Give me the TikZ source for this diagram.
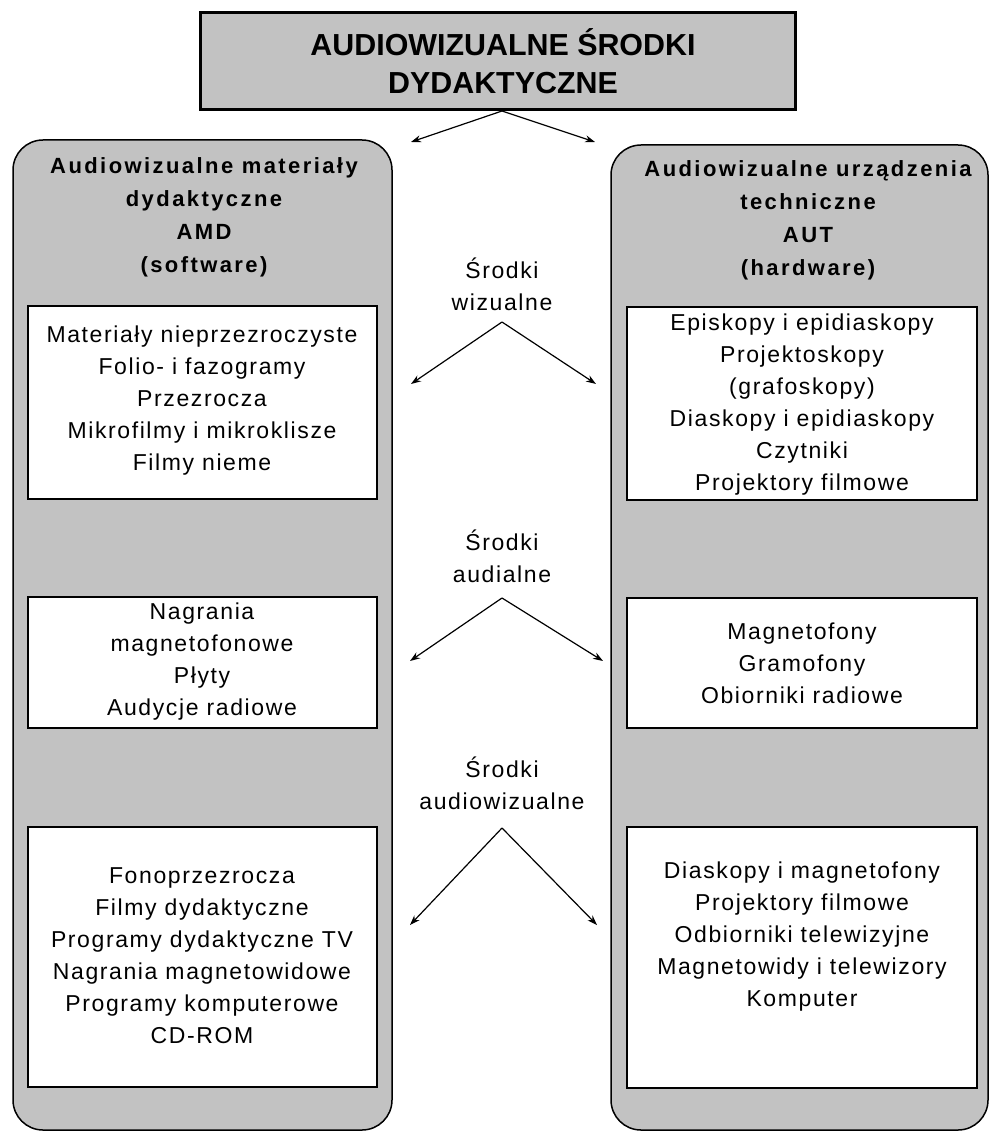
\documentclass[tikz,border=0pt]{standalone}
\usepackage{fontspec}
\usepackage{tikz}
\usetikzlibrary{arrows.meta}
\setmainfont{Liberation Sans}
\newfontfamily\itemfont[LetterSpace=7]{Liberation Sans}
\newfontfamily\hdrfont[LetterSpace=11]{Liberation Sans}
\definecolor{scangray}{gray}{0.76}

\tikzset{
    titlebox/.style={draw=black, line width=1.5pt, fill=scangray},
    bigbox/.style={draw=black, line width=0.75pt, fill=scangray, rounded corners=15pt},
    innerbox/.style={draw=black, line width=0.6pt, fill=white},
    titletxt/.style={align=center, font=\fontsize{15.2}{19}\selectfont\bfseries},
    hdrtxt/.style={align=center, font=\hdrfont\fontsize{11}{16.5}\selectfont\bfseries},
    itemtxt/.style={align=center, font=\itemfont\fontsize{11.5}{16}\selectfont},
    arr/.style={-{Stealth[length=5pt,width=3.5pt]}, line width=0.6pt}
}

\begin{document}
\begin{tikzpicture}[x=0.5pt, y=-0.5pt]
        \useasboundingbox (0,0) rectangle (993,1134);

        \coordinate(t0) at (502, 111);
        \coordinate(t1) at (411, 142);
        \coordinate(t2) at (595, 142);

        \coordinate(w0) at (502, 322);
        \coordinate(w1) at (411, 384);
        \coordinate(w2) at (596, 384);

        \coordinate(a0) at (502, 598);
        \coordinate(a1) at (410, 661);
        \coordinate(a2) at (603, 661);

        \coordinate(v0) at (502, 828);
        \coordinate(v1) at (410, 925);
        \coordinate(v2) at (597, 925);

        % big panels
        \draw[bigbox] (13, 140) rectangle (392, 1130);
        \draw[bigbox] (611, 145) rectangle (988, 1130);

        % inner lists
        \draw[innerbox] (28, 306) rectangle (377, 499);
        \draw[innerbox] (28, 597) rectangle (377, 728);
        \draw[innerbox] (28, 827) rectangle (377, 1087);

        \draw[innerbox] (627, 307) rectangle (977, 500);
        \draw[innerbox] (627, 598) rectangle (977, 728);
        \draw[innerbox] (627, 827) rectangle (977, 1088);

        % title
        \draw[titlebox] (200, 13) rectangle (795, 110);
        \node[titletxt] (title) at (503, 61) {AUDIOWIZUALNE ŚRODKI\\DYDAKTYCZNE};

        \node[hdrtxt] (amd) at (204, 217) {Audiowizualne materiały\\dydaktyczne\\AMD\\(software)};
        \node[hdrtxt] (aut) at (808, 220) {Audiowizualne urządzenia\\techniczne\\AUT\\(hardware)};

        \node[itemtxt] (wiz) at (502, 284) {Środki\\wizualne};
        \node[itemtxt] (aud) at (502, 556) {Środki\\audialne};
        \node[itemtxt] (audwiz) at (502, 783) {Środki\\audiowizualne};

        \node[itemtxt] (amd1) at (202, 401) {Materiały nieprzezroczyste\\Folio- i fazogramy\\Przezrocza\\Mikrofilmy i mikroklisze\\Filmy nieme};
        \node[itemtxt] (amd2) at (202, 662) {Nagrania\\magnetofonowe\\Płyty\\Audycje radiowe};
        \node[itemtxt] (amd3) at (202, 956) {Fonoprzezrocza\\Filmy dydaktyczne\\Programy dydaktyczne TV\\Nagrania magnetowidowe\\Programy komputerowe\\CD-ROM};

        \node[itemtxt] (aut1) at (802, 405) {Episkopy i epidiaskopy\\Projektoskopy\\(grafoskopy)\\Diaskopy i epidiaskopy\\Czytniki\\Projektory filmowe};
        \node[itemtxt] (aut2) at (802, 663) {Magnetofony\\Gramofony\\Obiorniki radiowe};
        \node[itemtxt] (aut3) at (802, 937) {Diaskopy i magnetofony\\Projektory filmowe\\Odbiorniki telewizyjne\\Magnetowidy i telewizory\\Komputer};

        \draw[arr] (t0) -- (t1);
        \draw[arr] (t0) -- (t2);
        \draw[arr] (w0) -- (w1);
        \draw[arr] (w0) -- (w2);
        \draw[arr] (a0) -- (a1);
        \draw[arr] (a0) -- (a2);
        \draw[arr] (v0) -- (v1);
        \draw[arr] (v0) -- (v2);

    \end{tikzpicture}
\end{document}
